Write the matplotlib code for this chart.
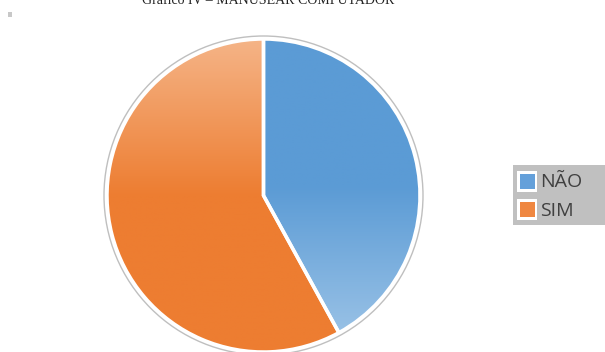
import numpy as np
import matplotlib
matplotlib.use("Agg")
import matplotlib.pyplot as plt
from matplotlib.colors import LinearSegmentedColormap
from matplotlib.patches import Rectangle, Circle

title = "Gráfico IV – MANUSEAR COMPUTADOR"
labels = ["NÃO", "SIM"]
values = [42, 58]

W, H = 605, 352
fig = plt.figure(figsize=(W / 100, H / 100), dpi=100)
ax = fig.add_axes([0, 0, 1, 1])

cx, cy_top = 263.5, 195.5
cy = H - cy_top
R = 156.5

wedges, _ = ax.pie(values, startangle=90, counterclock=False,
                   center=(cx, cy), radius=R, frame=True,
                   wedgeprops=dict(edgecolor="white", linewidth=2.5))

# gradients (vertical), top -> bottom
grads = [
    [(0.0, (91/255, 155/255, 213/255)), (0.47, (91/255, 155/255, 213/255)),
     (1.0, (160/255, 198/255, 232/255))],
    [(0.0, (245/255, 180/255, 135/255)), (0.50, (237/255, 125/255, 49/255)),
     (1.0, (237/255, 125/255, 49/255))],
]
for w, g in zip(wedges, grads):
    cmap = LinearSegmentedColormap.from_list("g", g)
    grad = np.linspace(0, 1, 256).reshape(-1, 1)
    im = ax.imshow(grad, cmap=cmap, aspect="auto",
                   extent=(cx - R, cx + R, cy - R, cy + R), origin="upper",
                   zorder=1)
    im.set_clip_path(w)
    w.set_facecolor("none")
    w.set_zorder(3)

ax.add_patch(Circle((cx, cy), R + 3, fill=False, edgecolor="#bfbfbf",
                    linewidth=1.0, zorder=4))

ax.set_xlim(0, W)
ax.set_ylim(0, H)
ax.set_aspect("auto")
ax.axis("off")

# title (cut off at top, as in the reference)
ax.text(268, H - 4.5, title, ha="center", va="baseline",
        family="Liberation Serif", fontsize=10, color="#222222")

# small broken image icon
ax.add_patch(Rectangle((8, H - 17), 4, 5, facecolor="#c8c8c8", edgecolor="none"))

# legend
ax.add_patch(Rectangle((513, H - 225), 92, 60, facecolor="#c0c0c0",
                       edgecolor="none", zorder=2))
leg_cols = [(100/255, 160/255, 218/255), (239/255, 135/255, 65/255)]
ys = [181, 209.5]
for lab, col, y in zip(labels, leg_cols, ys):
    ax.add_patch(Rectangle((517, H - y - 10.5), 20, 21, facecolor="white",
                           edgecolor="none", zorder=3))
    ax.add_patch(Rectangle((520, H - y - 7.5), 15, 15, facecolor=col,
                           edgecolor="none", zorder=4))
    ax.text(540.5, H - y - 1, lab, ha="left", va="center", family="Open Sans",
            fontsize=14, color="#404040", zorder=5)

fig.savefig("out.png", dpi=100)
